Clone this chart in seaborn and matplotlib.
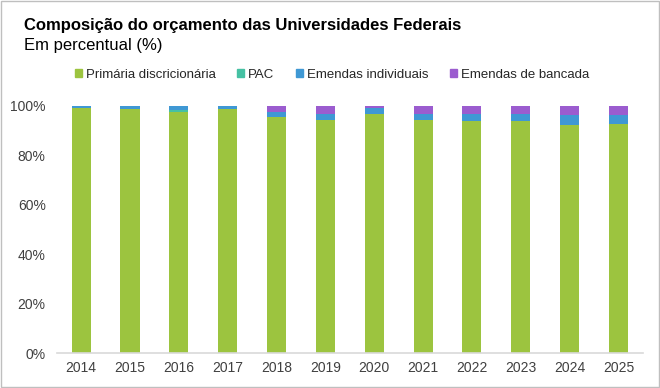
import numpy as np
import pandas as pd
import seaborn as sns
import matplotlib
matplotlib.use('Agg')
from matplotlib import pyplot as plt
from matplotlib.patches import Rectangle

# dados (percentual do orçamento)
anos = ['2014', '2015', '2016', '2017', '2018', '2019', '2020', '2021', '2022', '2023', '2024', '2025']
primaria = [99.1, 98.6, 97.4, 98.6, 95.5, 94.2, 96.9, 94.2, 93.9, 93.7, 92.3, 92.8]
pac = [0.0, 0.0, 1.1, 0.0, 0.0, 0.0, 0.0, 0.0, 0.0, 0.0, 0.0, 0.0]
individuais = [0.9, 1.4, 1.5, 1.4, 2.1, 2.4, 2.4, 2.7, 2.7, 2.9, 4.1, 3.6]
bancada = [0.0, 0.0, 0.0, 0.0, 2.4, 3.4, 0.7, 3.1, 3.4, 3.4, 3.6, 3.6]

series = ['Primária discricionária', 'PAC', 'Emendas individuais', 'Emendas de bancada']
cores = ['#9cc43f', '#46c1a3', '#3f98d4', '#9b5ccf']

df = pd.DataFrame({'ano': anos, series[0]: primaria, series[1]: pac,
                   series[2]: individuais, series[3]: bancada})

sns.set_style('white')
plt.rcParams['font.family'] = ['Liberation Sans', 'DejaVu Sans']

fig = plt.figure(figsize=(6.6, 3.88), dpi=100)
ax = fig.add_axes([0.086, 0.090, 0.888, 0.637])

base = np.zeros(len(anos))
for nome, cor in zip(series, cores):
    sns.barplot(data=df, x='ano', y=nome, color=cor, width=0.39, bottom=base,
                ax=ax, saturation=1, linewidth=0, legend=False)
    base = base + df[nome].values

ax.set_ylim(0, 100)
ax.set_yticks(range(0, 101, 20))
ax.set_yticklabels([f'{v}%' for v in range(0, 101, 20)], fontsize=10, color='#404040')
ax.tick_params(axis='x', labelsize=10, labelcolor='#404040', length=0, pad=6)
ax.tick_params(axis='y', length=0, pad=8)
ax.set_xlabel('')
ax.set_ylabel('')
for s in ['top', 'right', 'left']:
    ax.spines[s].set_visible(False)
ax.spines['bottom'].set_color('#d9d9d9')
ax.spines['bottom'].set_linewidth(1.2)
ax.set_xlim(-0.5, len(anos) - 0.5)

handles = [Rectangle((0, 0), 1, 1, color=c) for c in cores]
fig.legend(handles, series, loc='center', bbox_to_anchor=(0.503, 0.807), ncol=4,
           frameon=False, fontsize=9.5, handlelength=0.55, handleheight=0.55,
           handletextpad=0.3, columnspacing=1.6)

fig.text(0.036, 0.935, 'Composição do orçamento das Universidades Federais',
         fontsize=12, fontweight='bold', color='black', va='center')
fig.text(0.036, 0.883, 'Em percentual (%)', fontsize=12, color='black', va='center')

fig.patches.append(Rectangle((0.001, 0.002), 0.997, 0.995, transform=fig.transFigure,
                             fill=False, edgecolor='#bfbfbf', linewidth=1))

fig.savefig('out.png', dpi=100)
